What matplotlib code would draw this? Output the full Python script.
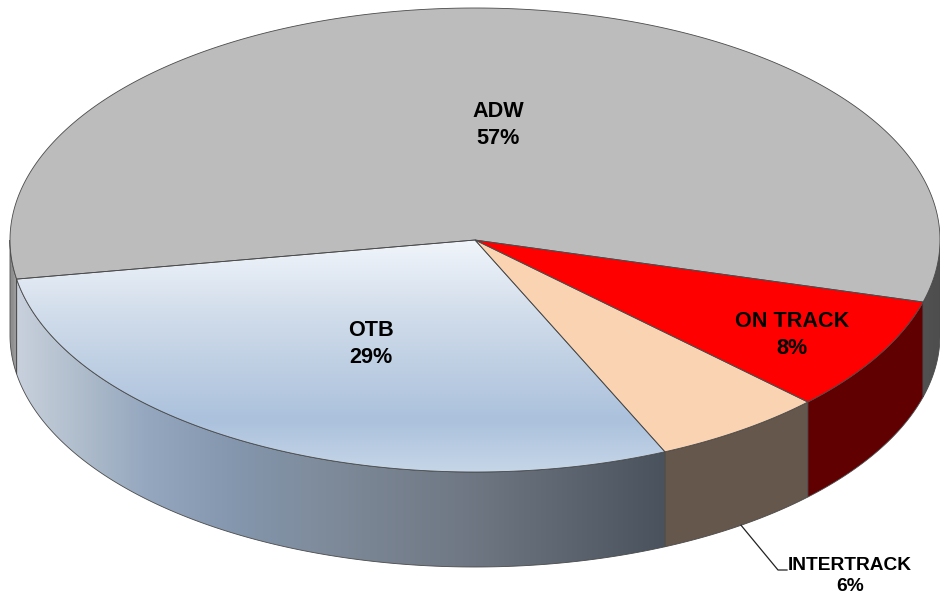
import matplotlib
matplotlib.use('Agg')
import matplotlib.pyplot as plt
from matplotlib.colors import LinearSegmentedColormap
from matplotlib.patches import Polygon
import numpy as np

plt.rcParams['font.family'] = ['Liberation Sans', 'DejaVu Sans']

# clockwise from the right edge of the red slice
labels = ['ON TRACK', 'INTERTRACK', 'OTB', 'ADW']
shares = [8, 6, 29, 57]
top_colors = ['#ff0000', '#f9d3b2', None, '#bcbcbc']
wall_colors = ['#600000', '#65574b', None, None]

otb_top_stops = [(0.0, '#f1f5fb'), (0.33, '#d0dcea'), (0.78, '#abc1dc'), (1.0, '#c6d6e8')]
otb_wall_stops = [(0.0, '#c8d0dc'), (0.1, '#aebccb'), (0.2, '#95a7bf'), (0.33, '#8497ae'),
                  (0.5, '#7d8998'), (0.72, '#6d7581'), (1.0, '#49525d')]
adw_wall_stops = [(0.0, '#8e8e8e'), (0.008, '#a6a6a6'), (0.96, '#565656'), (1.0, '#4e4e4e')]

# pie geometry in image pixels
cx, cy = 475, 240
rx, ry = 465, 232
depth = 95
start_angle = -15.5
edge = '#4a4a4a'


def arc(a0, a1, n=200, drop=0):
    t = np.radians(np.linspace(a0, a1, n))
    return np.column_stack([cx + rx * np.cos(t), cy - ry * np.sin(t) + drop])


def gradient(ax, stops, patch, vertical):
    cmap = LinearSegmentedColormap.from_list('g', stops)
    x0, y0 = patch.get_xy().min(axis=0)
    x1, y1 = patch.get_xy().max(axis=0)
    grad = np.linspace(0, 1, 512)
    grad = grad[:, None] if vertical else grad[None, :]
    im = ax.imshow(grad, cmap=cmap, extent=[x0, x1, y1, y0], aspect='auto', zorder=patch.get_zorder())
    im.set_clip_path(patch)


fig = plt.figure(figsize=(9.4, 5.98), dpi=100)
ax = fig.add_axes([0, 0, 1, 1])

a = start_angle
angles = []
for s in shares:
    angles.append((a, a - s * 3.6))
    a -= s * 3.6

for (a0, a1), wall in zip(angles[:3], wall_colors):
    pts = np.vstack([arc(a1, a0), arc(a0, a1, drop=depth)])
    p = Polygon(pts, closed=True, facecolor=wall or 'none', edgecolor='none', zorder=2)
    ax.add_patch(p)
    if wall is None:
        gradient(ax, otb_wall_stops, p, False)
    ax.add_patch(Polygon(pts, closed=True, fill=False, edgecolor=edge, lw=0.6, zorder=3))

# ADW goes over the back, its wall only shows at the far left and far right
for t0, t1 in [(-180, angles[2][1]), (start_angle, 0)]:
    pts = np.vstack([arc(t0, t1), arc(t1, t0, drop=depth)])
    p = Polygon(pts, closed=True, facecolor='none', edgecolor='none', zorder=2)
    ax.add_patch(p)
    cmap = LinearSegmentedColormap.from_list('g', adw_wall_stops)
    im = ax.imshow(np.linspace(0, 1, 512)[None, :], cmap=cmap, extent=[cx - rx, cx + rx, 598, 0],
                   aspect='auto', zorder=2)
    im.set_clip_path(p)
    ax.add_patch(Polygon(pts, closed=True, fill=False, edgecolor=edge, lw=0.6, zorder=3))

for (a0, a1), color in zip(angles, top_colors):
    pts = np.vstack([[cx, cy], arc(a1, a0, n=400)])
    p = Polygon(pts, closed=True, facecolor=color or 'none', edgecolor='none', zorder=4)
    ax.add_patch(p)
    if color is None:
        gradient(ax, otb_top_stops, p, True)
    ax.add_patch(Polygon(pts, closed=True, fill=False, edgecolor=edge, lw=0.6, zorder=5))

# leader for the small slice, from the lower rim at its mid angle
mid = np.radians(sum(angles[1]) / 2)
lx = cx + rx * np.cos(mid)
ly = cy - ry * np.sin(mid) + depth
ax.plot([lx, 778, 787], [ly, 570, 570], color='#222222', lw=0.9, zorder=6)

label_xy = {'ADW': (498, 125), 'OTB': (371, 344), 'ON TRACK': (792, 335), 'INTERTRACK': (850, 576)}
for name, share in zip(labels, shares):
    x, y = label_xy[name]
    small = name == 'INTERTRACK'
    ax.text(x, y, f'{name}\n{share}%', ha='center', va='center', fontsize=13.8 if small else 15.6,
            fontweight='bold', color='black', linespacing=1.35, zorder=7)

ax.set_xlim(0, 940)
ax.set_ylim(598, 0)
ax.axis('off')
fig.savefig('out.png', dpi=100)
